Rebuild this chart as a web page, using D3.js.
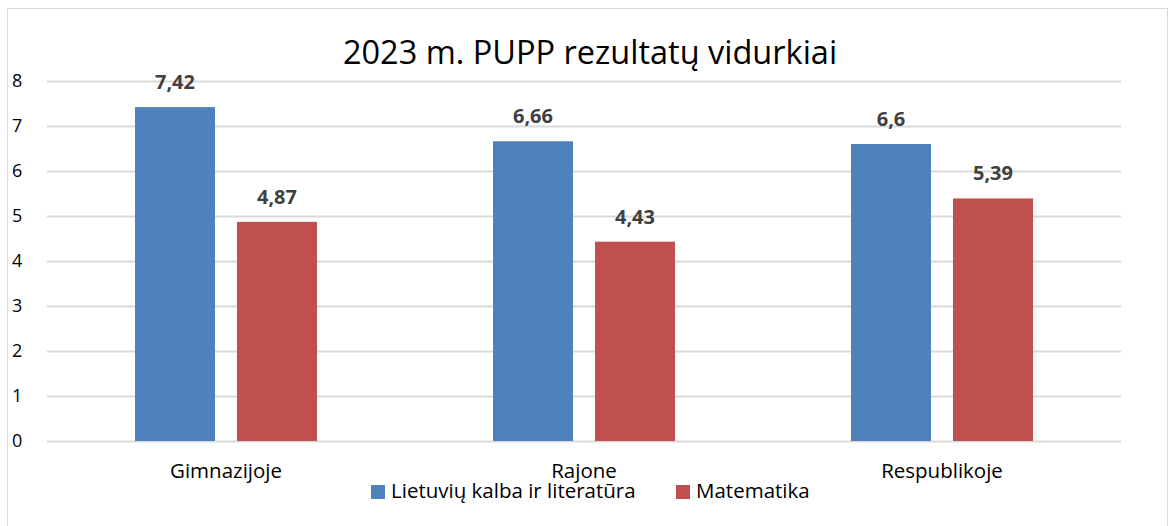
<!DOCTYPE html>
<html>
<head>
<meta charset="utf-8">
<script src="https://cdn.jsdelivr.net/npm/d3@7"></script>
<style>
  body { margin: 0; background: #fff; }
  svg text { font-family: "Open Sans", "Noto Sans", sans-serif; }
</style>
</head>
<body>
<div id="chart"></div>
<script>
var categories = ["Gimnazijoje", "Rajone", "Respublikoje"];
var seriesNames = ["Lietuvių kalba ir literatūra", "Matematika"];
var lietuviu = [7.42, 6.66, 6.6];
var matematika = [4.87, 4.43, 5.39];
var yTicks = [0, 1, 2, 3, 4, 5, 6, 7, 8];
var colors = ["#4f81bd", "#c0504d"];

function renderChart(){

  var width = 1171, height = 526;

  var svg = d3.select("#chart").append("svg")
              .attr("width", width)
              .attr("height", height);

  svg.append("rect")
     .attr("x", 7.5).attr("y", 8.5)
     .attr("width", 1160).attr("height", 530)
     .attr("fill", "#fff")
     .attr("stroke", "#d9d9d9");

  var left = 47, right = 1121, top = 81, bottom = 441;

  var y = d3.scaleLinear().domain([0, 8]).range([bottom, top]);

  var x0 = d3.scaleBand().domain(categories).range([left, right]).paddingInner(0).paddingOuter(0);

  // grid lines
  svg.append("g").selectAll("line")
     .data(yTicks)
     .enter().append("line")
     .attr("x1", left).attr("x2", right)
     .attr("y1", function(d){ return Math.round(y(d)) + 0.5; })
     .attr("y2", function(d){ return Math.round(y(d)) + 0.5; })
     .attr("stroke", "#d9d9d9")
     .attr("stroke-width", 2);

  // y labels
  svg.append("g").selectAll("text")
     .data(yTicks)
     .enter().append("text")
     .attr("x", 12)
     .attr("y", function(d){ return y(d); })
     .attr("dy", "0.36em")
     .attr("font-size", 18)
     .attr("fill", "#000")
     .text(function(d){ return d; });

  var barW = 80, gap = 22;
  var series = [lietuviu, matematika];

  series.forEach(function(vals, s){
    var g = svg.append("g");
    var bx = function(d, i){
      var c = x0(categories[i]) + x0.bandwidth() / 2;
      return c - (barW * 2 + gap) / 2 + s * (barW + gap);
    };
    g.selectAll("rect")
     .data(vals)
     .enter().append("rect")
     .attr("x", bx)
     .attr("y", function(d){ return y(d); })
     .attr("width", barW)
     .attr("height", function(d){ return bottom - y(d); })
     .attr("fill", colors[s]);

    g.selectAll("text")
     .data(vals)
     .enter().append("text")
     .attr("x", function(d, i){ return bx(d, i) + barW / 2; })
     .attr("y", function(d){ return y(d) - 18; })
     .attr("text-anchor", "middle")
     .attr("font-size", 20)
     .attr("font-weight", "bold")
     .attr("fill", "#404040")
     .text(function(d){ return String(d).replace(".", ","); });
  });

  // category labels
  svg.append("g").selectAll("text")
     .data(categories)
     .enter().append("text")
     .attr("x", function(d){ return x0(d) + x0.bandwidth() / 2; })
     .attr("y", 478)
     .attr("text-anchor", "middle")
     .attr("font-size", 20.5)
     .attr("fill", "#000")
     .text(function(d){ return d; });

  // title
  svg.append("text")
     .attr("x", 590).attr("y", 64)
     .attr("text-anchor", "middle")
     .attr("font-size", 32.5)
     .attr("fill", "#000")
     .text("2023 m. PUPP rezultatų vidurkiai");

  // legend
  var legendX = [371, 676];
  var leg = svg.append("g").selectAll("g")
     .data(seriesNames)
     .enter().append("g");
  leg.append("rect")
     .attr("x", function(d, i){ return legendX[i]; })
     .attr("y", 485)
     .attr("width", 14).attr("height", 14)
     .attr("fill", function(d, i){ return colors[i]; });
  leg.append("text")
     .attr("x", function(d, i){ return legendX[i] + 20; })
     .attr("y", 498)
     .attr("font-size", 20.5)
     .attr("fill", "#000")
     .text(function(d){ return d; });
}

renderChart();
</script>
</body>
</html>
